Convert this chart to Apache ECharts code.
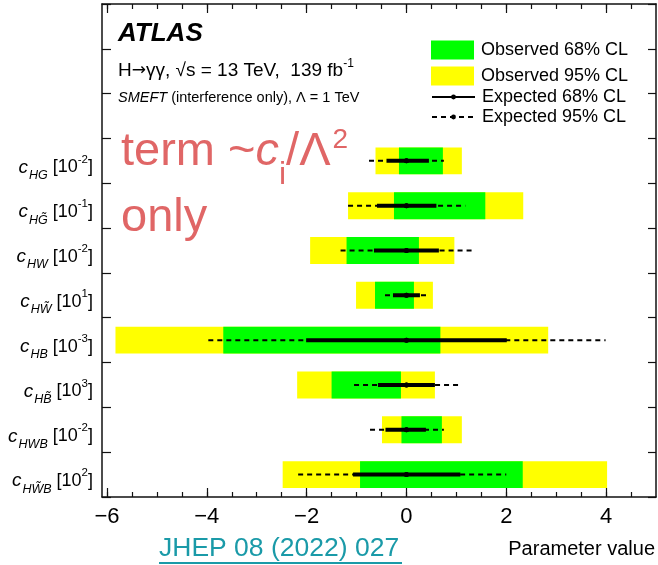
<!DOCTYPE html>
<html><head><meta charset="utf-8">
<script src="https://cdn.jsdelivr.net/npm/echarts@6/dist/echarts.min.js"></script>
<style>html,body{margin:0;padding:0;background:#fff}#c{width:658px;height:565px}</style>
</head><body><div id="c"></div>
<script>
// ---- data (top row first) ----
const paramSub = ['HG', 'HG\u0303', 'HW', 'HW\u0303', 'HB', 'HB\u0303', 'HWB', 'HW\u0303B'];
const paramExp = ['-2', '-1', '-2', '1', '-3', '3', '-2', '2'];
const obs95Lo = [-0.62, -1.17, -1.93, -1.01, -5.83, -2.19, -0.49, -2.48];
const obs95Hi = [1.11, 2.34, 0.96, 0.53, 2.84, 0.57, 1.11, 4.02];
const obs68Lo = [-0.15, -0.25, -1.20, -0.63, -3.67, -1.50, -0.10, -0.93];
const obs68Hi = [0.73, 1.58, 0.25, 0.15, 0.68, -0.11, 0.71, 2.33];
const exp68Lo = [-0.40, -0.59, -0.65, -0.27, -2.01, -0.57, -0.42, -1.07];
const exp68Hi = [0.45, 0.60, 0.65, 0.27, 2.01, 0.57, 0.39, 1.08];
const exp95Lo = [-0.75, -1.17, -1.32, -0.43, -3.97, -1.05, -0.73, -2.17];
const exp95Hi = [0.75, 1.18, 1.33, 0.44, 3.99, 1.05, 0.75, 2.00];
const expCentral = [0, 0, 0, 0, 0, 0, 0, 0];
const emptyRows = ['e1', 'e2', 'e3'];
const xMajorTicks = [-6, -4, -2, 0, 2, 4];
const xMinorTicks = [-6, -5.5, -5, -4.5, -4, -3.5, -3, -2.5, -2, -1.5, -1, -0.5, 0, 0.5, 1, 1.5, 2, 2.5, 3, 3.5, 4, 4.5];
const xMin = -6.1, xMax = 5;

// ---- chart ----
const FONT = 'Liberation Sans, Arial, Helvetica, sans-serif';
const nEmpty = emptyRows.length;
const yCats = emptyRows.concat(paramSub.map((s, k) => 'p' + k));
const AX = '#111';

function bandSeries(name, lo, hi, color) {
  return {
    type: 'custom', name: name, xAxisIndex: 0, yAxisIndex: 0,
    itemStyle: { color: color },
    encode: { x: [0, 1], y: 2 },
    data: lo.map((v, k) => [v, hi[k], k + nEmpty]),
    z: 2,
    renderItem: function (params, api) {
      const p0 = api.coord([api.value(0), api.value(2)]);
      const p1 = api.coord([api.value(1), api.value(2)]);
      const h = api.size([0, 1])[1] * 0.6;
      return { type: 'rect', shape: { x: p0[0], y: p0[1] - h / 2, width: p1[0] - p0[0], height: h }, style: { fill: color } };
    }
  };
}
function expSeries(name, lo, hi, width, dash) {
  return lo.map((v, k) => ({
    type: 'line', name: name, xAxisIndex: 0, yAxisIndex: 0,
    data: [{ value: [v, k + nEmpty], symbol: 'none' }, { value: [expCentral[k], k + nEmpty] }, { value: [hi[k], k + nEmpty], symbol: 'none' }],
    symbol: 'circle', symbolSize: 5, showAllSymbol: true, showSymbol: true,
    lineStyle: { color: '#000', width: width, type: dash },
    itemStyle: { color: '#000' },
    emphasis: { disabled: true },
    z: 3
  }));
}

const xLabelFmt = v => (v < 0 ? '\u2212' + (-v) : String(v));
const gridBox = { left: 102, right: 2, top: 4, bottom: 68, outerBoundsMode: 'none', containLabel: false };

const option = {
  animation: false,
  backgroundColor: '#fff',
  textStyle: { fontFamily: FONT },
  grid: [Object.assign({}, gridBox), Object.assign({}, gridBox)],
  xAxis: [
    { type: 'value', gridIndex: 0, position: 'bottom', min: xMin, max: xMax,
      axisLine: { show: true, onZero: false, lineStyle: { color: AX, width: 1.5 } },
      axisTick: { show: true, inside: true, length: 9, customValues: xMajorTicks, lineStyle: { color: AX, width: 1.2 } },
      axisLabel: { show: true, customValues: xMajorTicks, formatter: xLabelFmt, fontSize: 22, color: '#000', margin: 9, fontFamily: FONT },
      splitLine: { show: false } },
    { type: 'value', gridIndex: 0, position: 'top', min: xMin, max: xMax,
      axisLine: { show: true, onZero: false, lineStyle: { color: AX, width: 1.5 } },
      axisTick: { show: true, inside: true, length: 9, customValues: xMajorTicks, lineStyle: { color: AX, width: 1.2 } },
      axisLabel: { show: false }, splitLine: { show: false } },
    { type: 'value', gridIndex: 1, position: 'bottom', min: xMin, max: xMax,
      axisLine: { show: false, onZero: false },
      axisTick: { show: true, inside: true, length: 5, customValues: xMinorTicks, lineStyle: { color: AX, width: 1.2 } },
      axisLabel: { show: false }, splitLine: { show: false } },
    { type: 'value', gridIndex: 1, position: 'top', min: xMin, max: xMax,
      axisLine: { show: false, onZero: false },
      axisTick: { show: true, inside: true, length: 5, customValues: xMinorTicks, lineStyle: { color: AX, width: 1.2 } },
      axisLabel: { show: false }, splitLine: { show: false } }
  ],
  yAxis: [
    { type: 'category', gridIndex: 0, position: 'left', inverse: true, data: yCats, boundaryGap: true,
      axisLine: { show: true, onZero: false, lineStyle: { color: AX, width: 1.5 } },
      axisTick: { show: true, inside: true, length: 9, interval: 0, lineStyle: { color: AX, width: 1.2 } },
      axisLabel: {
        show: true, interval: 0, margin: 9, color: '#000', padding: [13, 0, 0, 0],
        formatter: function (v, i) {
          const k = i - nEmpty;
          if (k < 0) return '';
          return '{c|c}{s|' + paramSub[k] + '}{n| [10}{p|' + paramExp[k] + '}{n|]}';
        },
        rich: {
          c: { fontFamily: FONT, fontStyle: 'italic', fontSize: 19, color: '#000' },
          s: { fontFamily: FONT, fontStyle: 'italic', fontSize: 12.5, color: '#000', padding: [16, 0, 0, 1] },
          n: { fontFamily: FONT, fontSize: 18, color: '#000' },
          p: { fontFamily: FONT, fontSize: 11.5, color: '#000', padding: [0, 0, 16, 0] }
        }
      },
      splitLine: { show: false } },
    { type: 'category', gridIndex: 0, position: 'right', inverse: true, data: yCats, boundaryGap: true,
      axisLine: { show: true, onZero: false, lineStyle: { color: AX, width: 1.5 } },
      axisTick: { show: true, inside: true, length: 8, interval: 0, lineStyle: { color: AX, width: 1.2 } },
      axisLabel: { show: false }, splitLine: { show: false } },
    { type: 'category', gridIndex: 1, inverse: true, data: yCats, show: false,
      axisLine: { show: false, onZero: false } }
  ],
  legend: [
    { orient: 'vertical', left: 431, top: 40.5, padding: 0, itemWidth: 43, itemHeight: 19, itemGap: 7,
      selectedMode: false,
      textStyle: { fontSize: 18, color: '#000', fontFamily: FONT, lineHeight: 19, padding: [0, 0, 0, 2] },
      data: [{ name: 'Observed 68% CL', icon: 'rect' }, { name: 'Observed 95% CL', icon: 'rect' }] },
    { orient: 'vertical', left: 431, top: 87, padding: 0, itemWidth: 43, itemHeight: 6, itemGap: 0,
      selectedMode: false,
      textStyle: { fontSize: 18, color: '#000', fontFamily: FONT, lineHeight: 20, padding: [0, 0, 0, 2] },
      data: ['Expected 68% CL', 'Expected 95% CL'] }
  ],
  series: [
    bandSeries('Observed 95% CL', obs95Lo, obs95Hi, '#ffff00'),
    bandSeries('Observed 68% CL', obs68Lo, obs68Hi, '#00ff00')
  ].concat(expSeries('Expected 95% CL', exp95Lo, exp95Hi, 2, [5, 4]))
   .concat(expSeries('Expected 68% CL', exp68Lo, exp68Hi, 4, 'solid')),
  graphic: [
    { type: 'text', x: 118, y: 34, style: { text: 'ATLAS', font: 'italic bold 26px ' + FONT, fill: '#000', verticalAlign: 'middle' } },
    { type: 'text', x: 118, y: 71, style: {
        text: '{a|H}{r|\u2192}{a|\u03b3\u03b3, \u221as = 13 TeV,  139 fb}{u|-1}', verticalAlign: 'middle',
        rich: { a: { fontFamily: FONT, fontSize: 19, fill: '#000' },
                r: { fontFamily: 'DejaVu Sans', fontSize: 17, fill: '#000' },
                u: { fontFamily: FONT, fontSize: 12, fill: '#000', padding: [0, 0, 14, 0] } } } },
    { type: 'text', x: 118, y: 98, style: {
        text: '{i|SMEFT}{a| (interference only), \u039b = 1 TeV}', verticalAlign: 'middle',
        rich: { i: { fontFamily: FONT, fontStyle: 'italic', fontSize: 14.5, fill: '#000' }, a: { fontFamily: FONT, fontSize: 14.5, fill: '#000' } } } },
    { type: 'text', x: 121, y: 152, style: {
        text: '{a|term ~}{c|c}{i|i}{a|/\u039b}{s|2}', verticalAlign: 'middle',
        rich: {
          a: { fontFamily: FONT, fontSize: 47, fill: '#e06666' },
          c: { fontFamily: FONT, fontStyle: 'italic', fontSize: 47, fill: '#e06666' },
          i: { fontFamily: FONT, fontSize: 32, fill: '#e06666', padding: [46, 0, 0, 0] },
          s: { fontFamily: FONT, fontSize: 28, fill: '#e06666', padding: [0, 0, 24, 2] }
        } } },
    { type: 'text', x: 121, y: 218, style: { text: 'only', font: '47px ' + FONT, fill: '#e06666', verticalAlign: 'middle' } },
    { type: 'text', x: 159, y: 549, style: { text: 'JHEP 08 (2022) 027', font: '26.5px ' + FONT, fill: '#1a9aa8', verticalAlign: 'middle' } },
    { type: 'rect', shape: { x: 159, y: 562, width: 243, height: 2 }, style: { fill: '#1a9aa8' } },
    { type: 'text', x: 655, y: 549, style: { text: 'Parameter value', font: '20px ' + FONT, fill: '#000', align: 'right', verticalAlign: 'middle' } }
  ]
};
const chart = echarts.init(document.getElementById('c'), null, { renderer: 'canvas' });
chart.setOption(option);
</script>
</body></html>
